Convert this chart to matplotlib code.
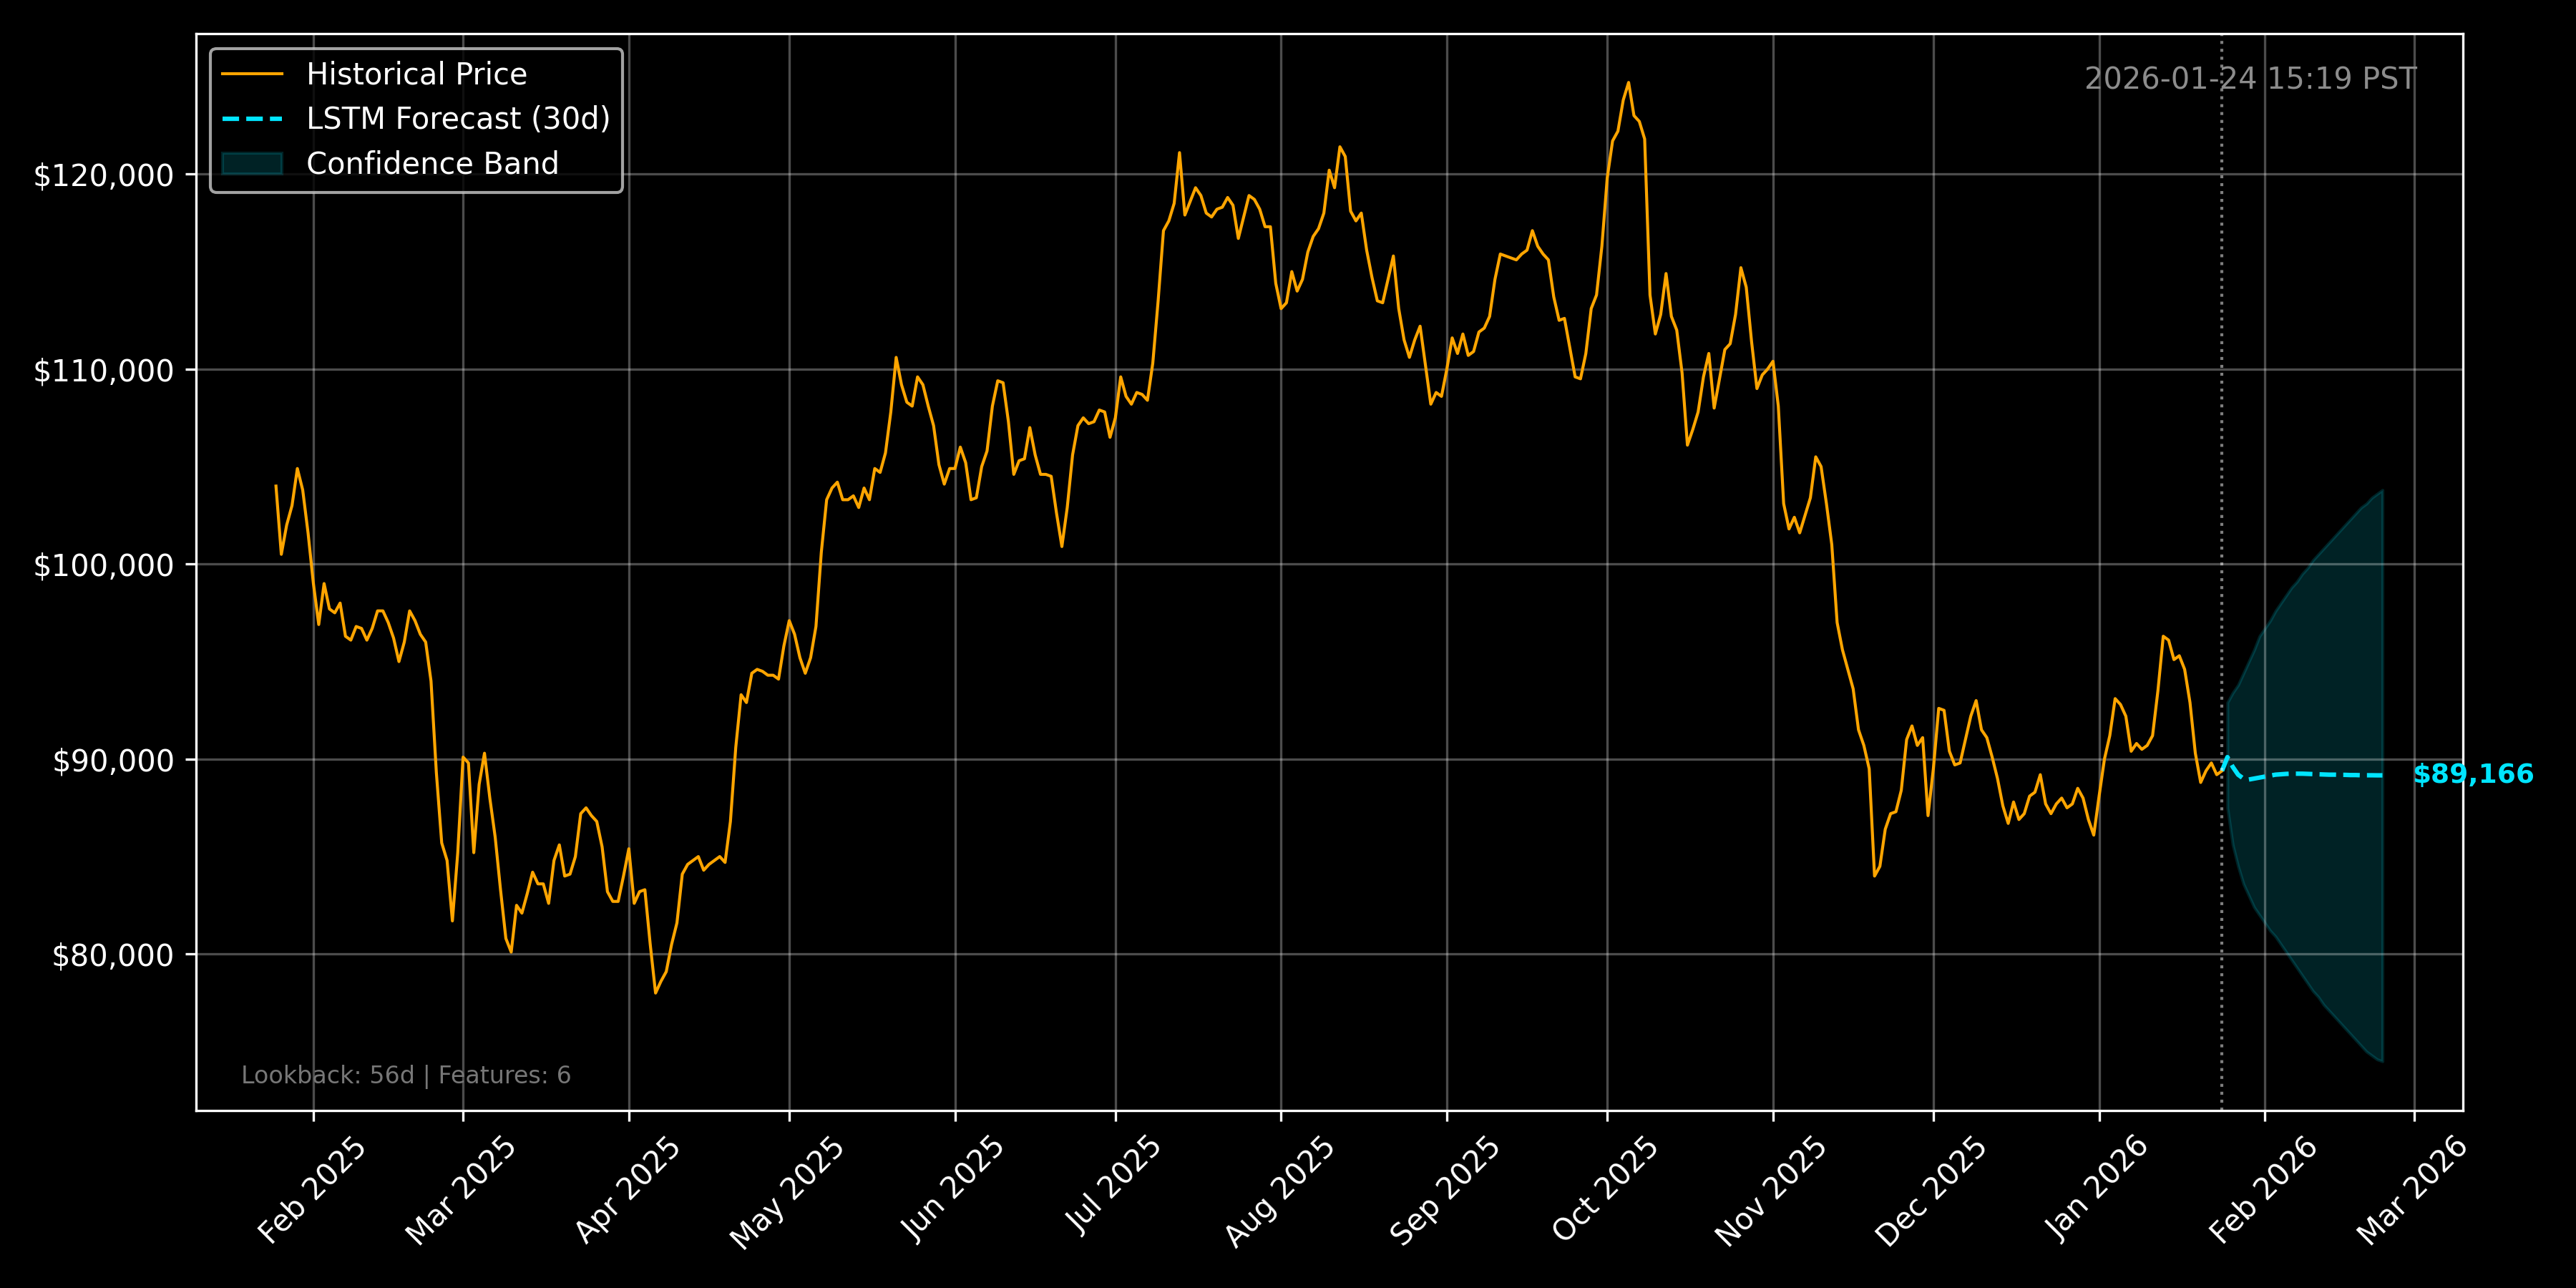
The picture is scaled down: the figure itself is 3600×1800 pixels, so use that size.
import numpy as np
import pandas as pd
import matplotlib
matplotlib.use("Agg")
import matplotlib.pyplot as plt
import matplotlib.dates as mdates
from matplotlib.ticker import FuncFormatter

# daily close in $k, 2025-01-25 .. 2026-01-24
start_date = "2025-01-25"
jan25 = [104.0, 100.5, 102.0, 103.0, 104.9, 103.8, 101.6]
feb25 = [99.0, 96.9, 99.0, 97.7, 97.5, 98.0, 96.3, 96.1, 96.8, 96.7, 96.1, 96.7, 97.6, 97.6,
         97.0, 96.2, 95.0, 96.0, 97.6, 97.1, 96.4, 96.0, 94.0, 89.3, 85.7, 84.8, 81.7, 85.2]
mar25 = [90.1, 89.8, 85.2, 88.7, 90.3, 88.0, 86.0, 83.3, 80.8, 80.1, 82.5, 82.1, 83.1, 84.2,
         83.6, 83.6, 82.6, 84.8, 85.6, 84.0, 84.1, 85.0, 87.2, 87.5, 87.1, 86.8, 85.5, 83.2,
         82.7, 82.7, 84.0]
apr25 = [85.4, 82.6, 83.2, 83.3, 80.5, 78.0, 78.6, 79.1, 80.5, 81.6, 84.1, 84.6, 84.8, 85.0,
         84.3, 84.6, 84.8, 85.0, 84.7, 86.8, 90.6, 93.3, 92.9, 94.4, 94.6, 94.5, 94.3, 94.3,
         94.1, 95.8]
may25 = [97.1, 96.4, 95.2, 94.4, 95.2, 96.8, 100.6, 103.3, 103.9, 104.2, 103.3, 103.3, 103.5,
         102.9, 103.9, 103.3, 104.9, 104.7, 105.7, 107.8, 110.6, 109.2, 108.3, 108.1, 109.6,
         109.2, 108.1, 107.1, 105.1, 104.1, 104.9]
jun25 = [104.9, 106.0, 105.2, 103.3, 103.4, 105.0, 105.8, 108.1, 109.4, 109.3, 107.3, 104.6,
         105.3, 105.4, 107.0, 105.6, 104.6, 104.6, 104.5, 102.6, 100.9, 102.9, 105.6, 107.1,
         107.5, 107.2, 107.3, 107.9, 107.8, 106.5]
jul25 = [107.5, 109.6, 108.6, 108.2, 108.8, 108.7, 108.4, 110.3, 113.5, 117.1, 117.6, 118.5,
         121.1, 117.9, 118.6, 119.3, 118.9, 118.0, 117.8, 118.2, 118.3, 118.8, 118.4, 116.7,
         117.8, 118.9, 118.7, 118.2, 117.3, 117.3, 114.4]
aug25 = [113.1, 113.4, 115.0, 114.0, 114.6, 116.0, 116.8, 117.2, 118.0, 120.2, 119.3, 121.4,
         120.9, 118.1, 117.6, 118.0, 116.1, 114.7, 113.5, 113.4, 114.6, 115.8, 113.1, 111.5,
         110.6, 111.5, 112.2, 110.2, 108.2, 108.8, 108.6]
sep25 = [110.0, 111.6, 110.8, 111.8, 110.7, 110.9, 111.9, 112.1, 112.7, 114.6, 115.9, 115.8,
         115.7, 115.6, 115.9, 116.1, 117.1, 116.3, 115.9, 115.6, 113.7, 112.5, 112.6, 111.1,
         109.6, 109.5, 110.8, 113.1, 113.8, 116.3]
oct25 = [119.8, 121.7, 122.2, 123.8, 124.7, 123.0, 122.7, 121.8, 113.8, 111.8, 112.8, 114.9,
         112.7, 112.0, 109.8, 106.1, 106.9, 107.8, 109.6, 110.8, 108.0, 109.5, 111.0, 111.3,
         112.8, 115.2, 114.2, 111.4, 109.0, 109.7, 110.0]
nov25 = [110.4, 108.1, 103.1, 101.8, 102.4, 101.6, 102.5, 103.4, 105.5, 105.0, 103.1, 101.0,
         97.0, 95.6, 94.6, 93.6, 91.5, 90.7, 89.5, 84.0, 84.5, 86.4, 87.2, 87.3, 88.4, 91.0,
         91.7, 90.7, 91.1, 87.1]
dec25 = [89.5, 92.6, 92.5, 90.4, 89.7, 89.8, 91.0, 92.2, 93.0, 91.5, 91.1, 90.1, 89.0, 87.6,
         86.7, 87.8, 86.9, 87.2, 88.1, 88.3, 89.2, 87.7, 87.2, 87.7, 88.0, 87.5, 87.7, 88.5,
         88.0, 86.9, 86.1]
jan26 = [88.1, 90.0, 91.2, 93.1, 92.8, 92.2, 90.4, 90.8, 90.5, 90.7, 91.2, 93.5, 96.3, 96.1,
         95.1, 95.3, 94.6, 92.9, 90.3, 88.8, 89.4, 89.8, 89.2, 89.4]

# 30 day LSTM forecast and band, $k
forecast = [90.1, 89.6, 89.2, 89.0, 88.95, 89.0, 89.05, 89.1, 89.15, 89.2, 89.22, 89.24, 89.25,
            89.25, 89.25, 89.24, 89.23, 89.22, 89.21, 89.2, 89.2, 89.19, 89.19, 89.18, 89.18,
            89.17, 89.17, 89.17, 89.166, 89.166]
band_upper = [92.9, 93.4, 93.8, 94.4, 95.0, 95.6, 96.3, 96.7, 97.1, 97.6, 98.0, 98.4, 98.8, 99.1,
              99.5, 99.8, 100.2, 100.5, 100.8, 101.1, 101.4, 101.7, 102.0, 102.3, 102.6, 102.9,
              103.1, 103.4, 103.6, 103.8]
band_lower = [87.5, 85.6, 84.5, 83.6, 83.0, 82.4, 82.0, 81.6, 81.2, 80.9, 80.5, 80.1, 79.7, 79.3,
              78.9, 78.5, 78.1, 77.8, 77.4, 77.1, 76.8, 76.5, 76.2, 75.9, 75.6, 75.3, 75.0, 74.8,
              74.6, 74.5]

timestamp = "2026-01-24 15:19 PST"
info = "Lookback: 56d | Features: 6"

hist = np.array(jan25 + feb25 + mar25 + apr25 + may25 + jun25 + jul25 + aug25 + sep25
                + oct25 + nov25 + dec25 + jan26) * 1000
fc = np.array(forecast) * 1000
up = np.array(band_upper) * 1000
lo = np.array(band_lower) * 1000

dates = pd.date_range(start_date, periods=len(hist), freq="D")
fc_dates = pd.date_range(dates[-1] + pd.Timedelta(days=1), periods=len(fc), freq="D")

plt.style.use("dark_background")
fig, ax = plt.subplots(figsize=(12, 6), dpi=300)
fig.subplots_adjust(left=0.076, right=0.956, top=0.974, bottom=0.138)

ax.plot(dates, hist, color="#FFA500", lw=1, label="Historical Price")
# forecast line joins on to the last real close
ax.plot([dates[-1]] + list(fc_dates), np.concatenate([[hist[-1]], fc]),
        color="#00E5FF", lw=1.5, ls="--", label="LSTM Forecast (30d)")
ax.fill_between(fc_dates, lo, up, color="#00E5FF", alpha=0.15, label="Confidence Band")
ax.axvline(dates[-1], color="white", alpha=0.5, ls=":", lw=1)

ax.annotate(f"${fc[-1]:,.0f}", xy=(fc_dates[-1], fc[-1]), xytext=(10, 0),
            textcoords="offset points", color="#00E5FF", fontsize=9,
            fontweight="bold", va="center", ha="left")

ax.text(0.98, 0.97, timestamp, transform=ax.transAxes, ha="right", va="top",
        fontsize=10, color="#8c8c8c")
ax.text(0.02, 0.02, info, transform=ax.transAxes, ha="left", va="bottom",
        fontsize=8, color="#777777")

ax.set_xlim(dates[0] - pd.Timedelta(days=15), fc_dates[-1] + pd.Timedelta(days=15))
ax.xaxis.set_major_locator(mdates.MonthLocator())
ax.xaxis.set_major_formatter(mdates.DateFormatter("%b %Y"))
ax.yaxis.set_major_formatter(FuncFormatter(lambda v, p: f"${v:,.0f}"))
plt.setp(ax.get_xticklabels(), rotation=45)
ax.grid(True, alpha=0.3)
ax.legend(loc="upper left")

fig.savefig("out.png", dpi=300)
